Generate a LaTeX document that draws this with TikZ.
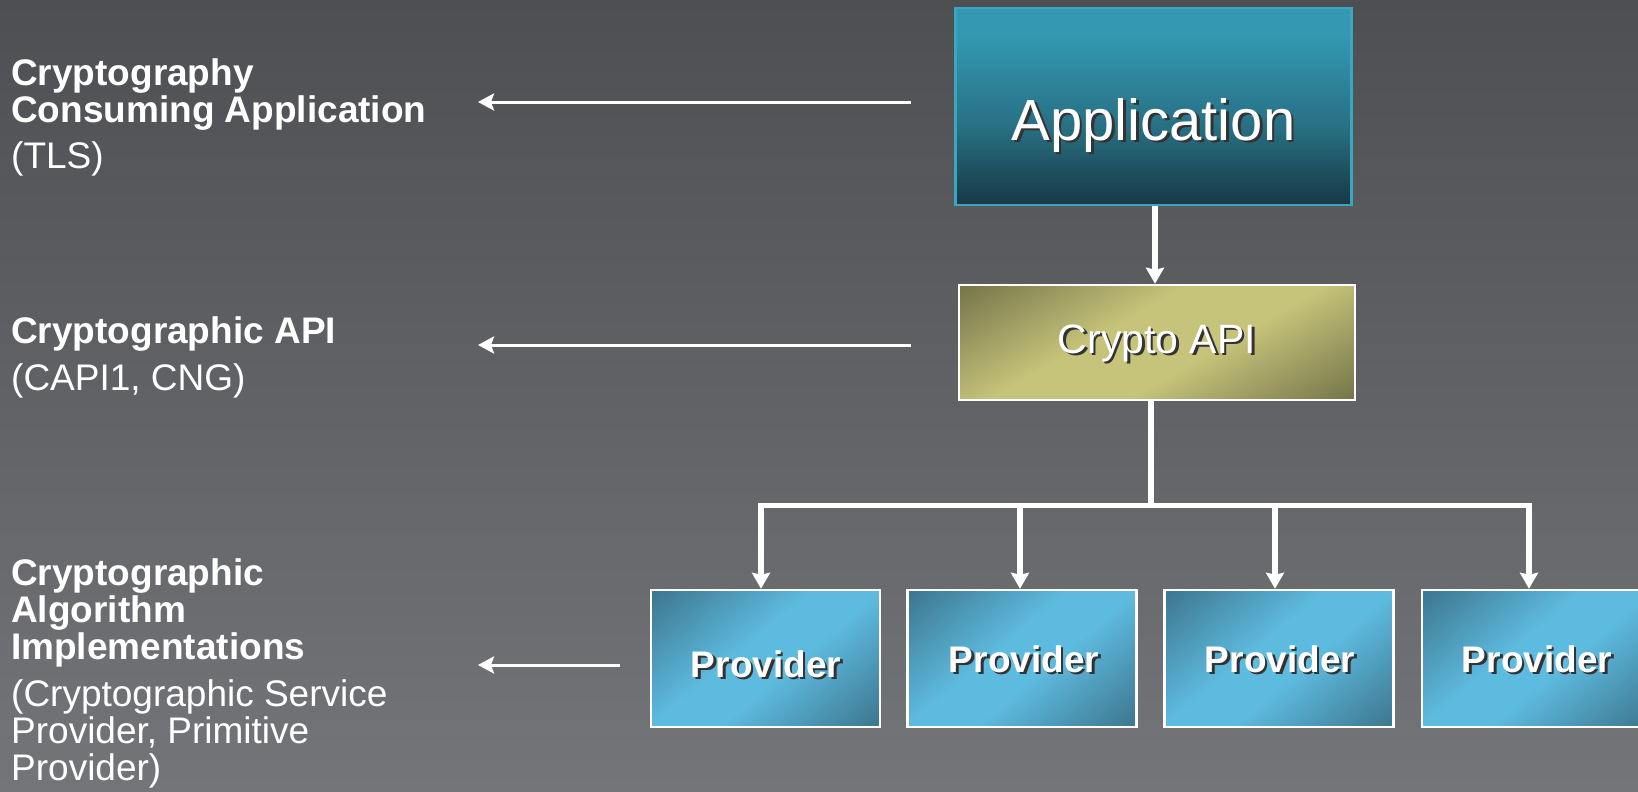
\documentclass[tikz,border=0pt]{standalone}
\usepackage{fontspec}
\setmainfont{Liberation Sans}
\usetikzlibrary{arrows.meta,fadings}

\definecolor{bgtop}{RGB}{78,79,83}
\definecolor{bgmid}{RGB}{97,98,102}
\definecolor{bgbot}{RGB}{116,117,121}
\definecolor{apptop}{RGB}{52,152,178}
\definecolor{appmid}{RGB}{40,112,132}
\definecolor{appbot}{RGB}{24,56,68}
\definecolor{appedge}{RGB}{58,166,192}
\definecolor{apidark}{RGB}{118,117,74}
\definecolor{apilight}{RGB}{198,195,122}
\definecolor{provdark}{RGB}{62,120,145}
\definecolor{provlight}{RGB}{94,187,224}

% box fills
\pgfdeclareverticalshading{appshade}{100bp}{color(0bp)=(appbot); color(25bp)=(appbot); color(45bp)=(appmid); color(68bp)=(apptop); color(100bp)=(apptop)}
\pgfdeclareverticalshading{apishade}{100bp}{color(0bp)=(apidark); color(16bp)=(apidark); color(42bp)=(apilight); color(58bp)=(apilight); color(84bp)=(apidark); color(100bp)=(apidark)}
\pgfdeclareverticalshading{provshade}{100bp}{color(0bp)=(provdark); color(16bp)=(provdark); color(44bp)=(provlight); color(56bp)=(provlight); color(84bp)=(provdark); color(100bp)=(provdark)}

% soft band used to streak the backdrop
\tikzfading[name=softband, left color=transparent!100, middle color=transparent!0, right color=transparent!100]

% white text with a dark drop shadow
\newcommand\shadowed[1]{\leavevmode\rlap{\kern2.5pt\raisebox{-2.5pt}{\color{black!80}#1}}#1}

\tikzset{
  x=1pt, y=-1pt,
  appbox/.style={rectangle, draw=appedge, line width=2.5pt, shading=appshade,
    minimum width=396pt, minimum height=197pt, inner sep=0pt},
  apibox/.style={rectangle, draw=white, line width=2.5pt, shading=apishade, shading angle=30,
    minimum width=396pt, minimum height=115pt, inner sep=0pt},
  provbox/.style={rectangle, draw=white, line width=2.5pt, shading=provshade, shading angle=40,
    minimum width=229pt, minimum height=137pt, inner sep=0pt},
  boxtext/.style={anchor=base, inner sep=0pt, text=white},
  lbl/.style={anchor=base west, inner sep=0pt, text=white, font=\fontsize{37}{40}\selectfont},
  lblb/.style={lbl, font=\fontsize{37}{40}\selectfont\bfseries},
  conn/.style={draw=white, line width=6pt},
  arr/.style={conn, -{Stealth[length=16pt,width=18pt,inset=2pt]}},
  bus/.style={draw=white, line width=5pt},
  lblarr/.style={draw=white, line width=3pt, -{Stealth[length=16pt,width=17pt,inset=3pt]}},
}

\begin{document}
\begin{tikzpicture}
\useasboundingbox (0,0) rectangle (1638,792);
\clip (0,0) rectangle (1638,792);

% backdrop
\shade[top color=bgtop, bottom color=bgbot, middle color=bgmid] (0,0) rectangle (1638,792);
\fill[white, opacity=0.06, path fading=softband] (1340,0) rectangle (1540,792);
\fill[black, opacity=0.12, path fading=softband] (1500,0) -- (1630,0) -- (1638,500) -- (1540,500) -- cycle;

% boxes
\node[appbox] (app) at (1153.5,106.5) {};
\node[boxtext, font=\fontsize{58}{60}\selectfont] (apptext) at (1153.5,140) {\shadowed{Application}};

\node[apibox] (api) at (1157,342.5) {};
\node[boxtext, font=\fontsize{41}{43}\selectfont] (apitext) at (1157,353) {\shadowed{Crypto API}};

\node[provbox] (p1) at (765.5,658.5) {};
\node[provbox] (p2) at (1022,658.5) {};
\node[provbox] (p3) at (1279,658.5) {};
\node[provbox] (p4) at (1536.5,658.5) {};
\node[boxtext, font=\fontsize{37}{40}\selectfont\bfseries] (p1text) at (766,677) {\shadowed{Provider}};
\node[boxtext, font=\fontsize{37}{40}\selectfont\bfseries] (p2text) at (1024,672) {\shadowed{Provider}};
\node[boxtext, font=\fontsize{37}{40}\selectfont\bfseries] (p3text) at (1280,672) {\shadowed{Provider}};
\node[boxtext, font=\fontsize{37}{40}\selectfont\bfseries] (p4text) at (1537,672) {\shadowed{Provider}};

% layer labels
\node[lblb] (l1a) at (11,85) {Cryptography};
\node[lblb] (l1b) at (11,122) {Consuming Application};
\node[lbl]  (l1c) at (11,168) {(TLS)};

\node[lblb] (l2a) at (11,343) {Cryptographic API};
\node[lbl]  (l2b) at (11,390) {(CAPI1, CNG)};

\node[lblb] (l3a) at (11,585) {Cryptographic};
\node[lblb] (l3b) at (11,622) {Algorithm};
\node[lblb] (l3c) at (11,659) {Implementations};
\node[lbl]  (l3d) at (11,706) {(Cryptographic Service};
\node[lbl]  (l3e) at (11,743) {Provider, Primitive};
\node[lbl]  (l3f) at (11,780) {Provider)};

% label pointers
\coordinate (s1) at (911,102);
\coordinate (t1) at (478,102);
\coordinate (s2) at (911,345);
\coordinate (t2) at (478,345);
\coordinate (s3) at (620,665);
\coordinate (t3) at (478,665);
\draw[lblarr] (s1) -- (t1);
\draw[lblarr] (s2) -- (t2);
\draw[lblarr] (s3) -- (t3);

% call hierarchy
\coordinate (a0) at (1155,0);
\draw[arr] (a0 |- app.south) -- (a0 |- api.north);

\coordinate (bus0) at (1151,505);
\coordinate (busL) at (758,505);
\coordinate (busR) at (1532,505);
\coordinate (b1) at (761,505);
\coordinate (b2) at (1020,505);
\coordinate (b3) at (1275,505);
\coordinate (b4) at (1529,505);
\draw[conn] (bus0 |- api.south) -- (bus0);
\draw[bus] (busL) -- (busR);
\draw[arr] (b1) -- (b1 |- p1.north);
\draw[arr] (b2) -- (b2 |- p2.north);
\draw[arr] (b3) -- (b3 |- p3.north);
\draw[arr] (b4) -- (b4 |- p4.north);
\end{tikzpicture}
\end{document}
